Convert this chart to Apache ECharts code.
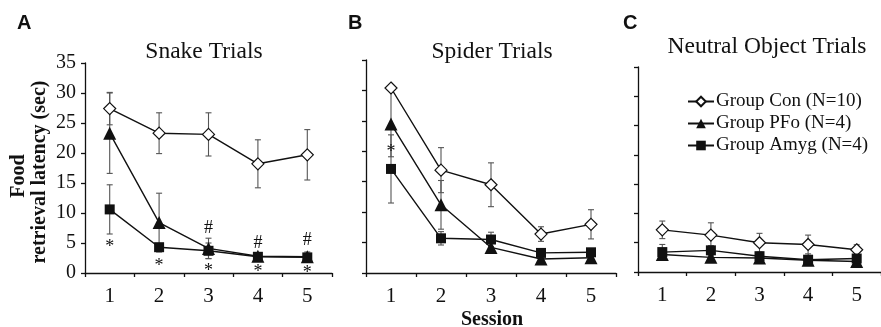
<!DOCTYPE html>
<html>
<head>
<meta charset="utf-8">
<script src="https://cdn.jsdelivr.net/npm/echarts@6/dist/echarts.min.js"></script>
<style>
html,body{margin:0;padding:0;background:#fff;}
#chart{width:881px;height:327px;}
</style>
</head>
<body>
<div id="chart"></div>
<script>
// ---- data ----
const categories = ['1', '2', '3', '4', '5'];
const seriesNames = ['Group Con (N=10)', 'Group PFo (N=4)', 'Group Amyg (N=4)'];
const panelTitles = ['Snake Trials', 'Spider Trials', 'Neutral Object Trials'];
const panelLetters = ['A', 'B', 'C'];
const yTickMin = 0, yTickMax = 35, yTickStep = 5;

const snakeCon = [27.4, 23.3, 23.1, 18.2, 19.7];
const snakeConSE = [2.7, 3.4, 3.6, 4.0, 4.2];
const snakePFo = [23.3, 8.4, 4.1, 2.8, 2.7];
const snakePFoSE = [6.7, 4.9, 1.7, 0.5, 0.8];
const snakeAmyg = [10.6, 4.3, 3.7, 2.7, 2.6];
const snakeAmygSE = [4.1, 0.6, 1.3, 0.4, 0.4];

const spiderCon = [30.4, 16.9, 14.5, 6.4, 8.0];
const spiderConSE = [0.4, 3.7, 3.6, 1.2, 2.4];
const spiderPFo = [24.5, 11.2, 4.2, 2.3, 2.5];
const spiderPFoSE = [5.4, 4.0, 0.9, 0.4, 0.5];
const spiderAmyg = [17.1, 5.7, 5.5, 3.3, 3.4];
const spiderAmygSE = [5.6, 1.1, 1.2, 0.4, 0.6];

const neutralCon = [7.2, 6.3, 5.0, 4.7, 3.8];
const neutralConSE = [1.5, 2.1, 1.6, 1.6, 0.85];
const neutralPFo = [3.0, 2.5, 2.4, 2.0, 1.8];
const neutralPFoSE = [0.5, 0.4, 0.6, 0.3, 0.3];
const neutralAmyg = [3.4, 3.7, 2.7, 2.1, 2.3];
const neutralAmygSE = [1.3, 0.8, 0.6, 0.4, 0.4];

// significance markers (position of the glyph in data units, null = none)
const snakeStars = [4.9, 1.8, 1.0, 0.8, 0.7];
const snakeHashes = [null, null, 7.5, 4.9, 5.5];
const spiderStars = [20.5, null, null, null, null];

// ---- chart ----
const SERIF = "'Liberation Serif','Times New Roman',serif";
const SANS = "'Liberation Sans',Arial,sans-serif";
const chart = echarts.init(document.getElementById('chart'));

const grids = [
  {left: 85, top: 63, width: 247, height: 210},
  {left: 366, top: 60, width: 250, height: 213},
  {left: 638, top: 67, width: 250, height: 205}
];

const panels = [
  {means: [snakeCon, snakePFo, snakeAmyg], se: [snakeConSE, snakePFoSE, snakeAmygSE]},
  {means: [spiderCon, spiderPFo, spiderAmyg], se: [spiderConSE, spiderPFoSE, spiderAmygSE]},
  {means: [neutralCon, neutralPFo, neutralAmyg], se: [neutralConSE, neutralPFoSE, neutralAmygSE]}
];

const symbols = ['diamond', 'triangle', 'rect'];
const symbolSizes = [12, 13, 10];
const symbolFill = ['#ffffff', '#111111', '#111111'];

const xAxes = grids.map((g, i) => ({
  type: 'category', gridIndex: i, data: categories, boundaryGap: true,
  axisLine: {lineStyle: {color: '#111', width: 1.3}},
  axisTick: {show: true, length: 4, lineStyle: {color: '#111', width: 1.3}},
  axisLabel: {show: true, color: '#111', fontFamily: SERIF, fontSize: 21, margin: 13},
  splitLine: {show: false}
}));
const yAxes = grids.map((g, i) => ({
  type: 'value', gridIndex: i, min: yTickMin, max: yTickMax, interval: yTickStep,
  axisLine: {show: true, lineStyle: {color: '#111', width: 1.3}},
  axisTick: {show: true, length: 4, lineStyle: {color: '#111', width: 1.3}},
  axisLabel: {show: i === 0, color: '#111', fontFamily: SERIF, fontSize: 20, margin: 9},
  splitLine: {show: false}
}));

const series = [];
panels.forEach((p, pi) => {
  p.means.forEach((vals, si) => {
    const errs = p.se[si];
    series.push({
      type: 'custom', xAxisIndex: pi, yAxisIndex: pi, z: 1, silent: true,
      data: vals.map((v, i) => [i, v, errs[i]]),
      renderItem: function (params, api) {
        const x = api.value(0), y = api.value(1), e = api.value(2);
        const hi = api.coord([x, y + e]);
        const lo = api.coord([x, y - e]);
        const cw = 3;
        const st = {stroke: '#555', lineWidth: 1.1};
        return {type: 'group', children: [
          {type: 'line', shape: {x1: hi[0], y1: hi[1], x2: lo[0], y2: lo[1]}, style: st},
          {type: 'line', shape: {x1: hi[0] - cw, y1: hi[1], x2: hi[0] + cw, y2: hi[1]}, style: st},
          {type: 'line', shape: {x1: lo[0] - cw, y1: lo[1], x2: lo[0] + cw, y2: lo[1]}, style: st}
        ]};
      }
    });
    series.push({
      name: seriesNames[si], type: 'line', xAxisIndex: pi, yAxisIndex: pi, z: 3 + si,
      data: vals, symbol: symbols[si], symbolSize: symbolSizes[si], showSymbol: true,
      lineStyle: {color: '#111', width: 1.4},
      itemStyle: {color: symbolFill[si], borderColor: '#111', borderWidth: si === 0 ? 1.2 : 0},
      emphasis: {disabled: true}, animation: false
    });
  });
});

function markerSeries(pi, positions, glyph, dy) {
  return {
    type: 'custom', xAxisIndex: pi, yAxisIndex: pi, z: 10, silent: true,
    data: positions.map((v, i) => v == null ? null : [i, v]).filter(d => d),
    renderItem: function (params, api) {
      const pt = api.coord([api.value(0), api.value(1)]);
      return {type: 'text', x: pt[0], y: pt[1] + dy, style: {
        text: glyph, fill: '#111', font: '18px ' + SERIF, align: 'center', verticalAlign: 'middle'
      }};
    }
  };
}
series.push(markerSeries(0, snakeStars, '*', 4));
series.push(markerSeries(0, snakeHashes, '#', 0));
series.push(markerSeries(1, spiderStars, '*', 4));

const graphic = [];
const letterX = [17, 348, 623];
panelLetters.forEach((t, i) => graphic.push({
  type: 'text', left: letterX[i], top: 13,
  style: {text: t, font: 'bold 20px ' + SANS, fill: '#111'}
}));
const titleX = [204, 492, 767];
const titleY = [52, 52, 47];
panelTitles.forEach((t, i) => graphic.push({
  type: 'text', x: titleX[i], y: titleY[i],
  style: {text: t, font: '23.5px ' + SERIF, fill: '#111', align: 'center', verticalAlign: 'middle'}
}));
graphic.push({type: 'text', x: 19, y: 176, rotation: Math.PI / 2,
  style: {text: 'Food', font: 'bold 20px ' + SERIF, fill: '#111', align: 'center', verticalAlign: 'middle'}});
graphic.push({type: 'text', x: 40, y: 172, rotation: Math.PI / 2,
  style: {text: 'retrieval latency (sec)', font: 'bold 20px ' + SERIF, fill: '#111', align: 'center', verticalAlign: 'middle'}});
graphic.push({type: 'text', x: 492, y: 320,
  style: {text: 'Session', font: 'bold 20px ' + SERIF, fill: '#111', align: 'center', verticalAlign: 'middle'}});

chart.setOption({
  animation: false,
  backgroundColor: '#fff',
  grid: grids,
  xAxis: xAxes,
  yAxis: yAxes,
  series: series,
  graphic: graphic,
  legend: {
    show: true, orient: 'vertical', left: 687, top: 92, padding: 0, itemWidth: 26, itemHeight: 12, itemGap: 3,
    data: seriesNames, selectedMode: false,
    textStyle: {fontFamily: SERIF, fontSize: 19, color: '#111', padding: [0, 0, 0, -3]}
  }
});
</script>
</body>
</html>
